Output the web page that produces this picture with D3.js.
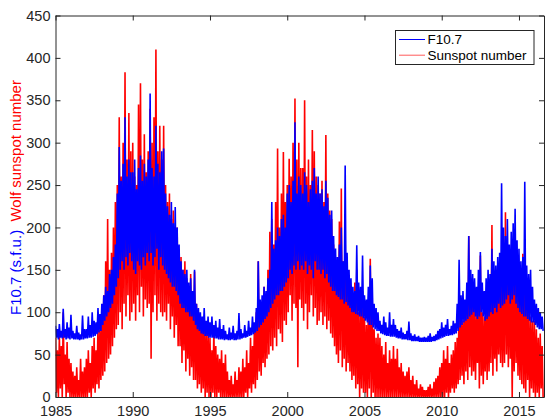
<!DOCTYPE html>
<html><head><meta charset="utf-8">
<script src="https://cdn.jsdelivr.net/npm/d3@7"></script>
<style>
html,body{margin:0;padding:0;background:#fff;}
svg{display:block;font-family:"Liberation Sans",Arial,Helvetica,sans-serif;}
</style></head>
<body>
<svg id="chart" width="545" height="418"></svg>
<script>
// ---- data: readings every 1/8 year from 1985.0 (high and low of each interval) ----
const startYear = 1985;
const stepYears = 0.125;
const xTicks = [1985, 1990, 1995, 2000, 2005, 2010, 2015];
const yTicks = [0, 50, 100, 150, 200, 250, 300, 350, 400, 450];
const seriesNames = ["F10.7", "Sunspot number"];

const f107Hi = [
 84,80,86,78,104,80,88,82,      // 1985
 97,78,75,84,76,74,96,80,       // 1986
 80,95,85,100,90,88,105,98,     // 1987
 110,120,130,125,145,150,165,180, // 1988
 240,295,255,275,330,260,280,265, // 1989
 265,280,245,270,285,255,275,260, // 1990
 280,358,270,260,320,275,265,290, // 1991
 293,240,225,215,230,205,224,200, // 1992
 180,160,150,145,150,135,140,125, // 1993
 150,110,105,100,95,105,90,95,   // 1994
 88,95,85,90,82,92,80,85,        // 1995
 78,74,82,76,84,75,78,99,        // 1996
 80,75,85,78,90,82,95,88,        // 1997
 105,160,115,120,130,125,140,150, // 1998
 230,175,185,200,190,210,215,200, // 1999
 240,250,230,255,324,240,260,250, // 2000
 240,265,250,230,245,255,270,240, // 2001
 260,240,245,225,255,235,215,220, // 2002
 190,175,165,180,200,160,273,170, // 2003
 150,140,130,125,179,135,130,167, // 2004
 120,115,130,155,140,110,105,100, // 2005
 90,85,95,88,82,100,85,92,       // 2006
 85,80,78,82,76,74,78,89,        // 2007
 75,72,74,71,72,70,70,71,        // 2008
 70,72,75,71,72,74,78,80,        // 2009
 88,82,85,92,80,84,90,87,        // 2010
 110,162,120,125,115,135,190,150, // 2011
 145,140,130,150,171,135,125,140, // 2012
 150,145,175,160,155,165,170,252, // 2013
 200,190,210,180,195,205,222,185, // 2014
 175,160,165,254,155,145,150,130, // 2015
 115,110,105,100,95              // 2016
];
const f107Lo = [
 70,68,70,69,70,68,69,68,
 69,68,68,68,67,68,68,69,
 69,70,70,71,72,74,76,78,
 85,90,95,100,105,110,120,130,
 140,150,160,150,165,155,170,160,
 150,145,160,155,150,165,155,170,
 160,170,155,165,175,150,165,155,
 150,145,140,135,130,130,125,120,
 110,105,105,100,100,95,95,90,
 85,80,78,75,74,72,72,70,
 70,70,69,69,68,68,68,67,
 68,67,67,68,67,67,68,68,
 69,70,70,71,72,73,74,76,
 78,82,85,88,92,95,100,105,
 110,115,120,120,125,125,130,135,
 140,150,145,155,150,160,150,155,
 150,160,145,155,150,140,160,150,
 150,145,150,140,145,135,130,125,
 125,120,118,115,115,110,112,108,
 105,100,100,98,97,95,95,93,
 90,88,85,85,82,80,78,78,
 75,74,73,72,72,71,71,71,
 70,69,69,68,68,68,67,67,
 66,66,66,66,65,65,65,65,
 65,65,65,66,66,67,68,69,
 70,71,72,72,73,73,74,75,
 78,82,85,88,90,92,95,97,
 100,95,92,95,100,95,90,92,
 95,100,98,105,100,110,105,108,
 110,115,120,110,115,120,110,105,
 100,98,95,95,92,90,88,88,
 85,82,80,80,78
];
const ssnHi = [
 70,55,72,60,100,50,65,45,
 40,30,25,35,20,45,30,35,
 45,55,40,60,70,55,85,80,
 95,120,160,210,150,170,200,230,
 250,330,260,300,383,280,335,290,
 300,260,250,345,370,280,310,265,
 290,340,300,330,410,290,320,280,
 320,250,230,240,210,220,190,200,
 175,165,150,160,140,130,145,120,
 148,110,100,95,85,90,75,80,
 70,55,80,60,50,45,55,40,
 50,30,20,25,15,30,20,35,
 30,45,35,55,40,70,60,85,
 100,160,90,110,130,120,150,195,
 210,180,230,293,200,240,289,230,
 250,281,260,300,352,280,300,270,
 270,350,260,280,250,315,290,260,
 250,240,255,230,309,240,220,210,
 180,165,150,207,246,160,190,150,
 130,120,110,135,150,100,110,125,
 95,85,110,163,120,80,70,75,
 70,60,50,65,40,55,45,60,
 45,57,35,40,30,25,30,35,
 20,25,15,20,10,15,12,8,
 8,12,15,10,18,22,25,35,
 40,55,45,60,40,50,55,65,
 70,120,100,90,110,120,190,140,
 130,110,100,120,167,100,95,110,
 120,110,203,130,120,140,130,150,
 140,218,150,160,130,145,155,120,
 120,110,169,130,110,100,95,90,
 90,80,70,75,60
];
const ssnLo = [
 5,0,10,0,15,0,5,0,
 0,0,0,0,0,0,0,0,
 0,5,0,10,5,15,10,20,
 25,30,40,45,50,60,70,80,
 85,100,80,110,95,120,90,100,
 110,90,120,100,130,95,115,105,
 110,45,100,120,90,110,100,95,
 100,90,110,80,95,70,85,60,
 60,40,55,30,45,25,35,20,
 20,10,15,5,10,0,5,0,
 0,5,0,0,5,0,0,0,
 0,0,0,0,0,0,0,0,
 0,0,5,0,10,5,15,10,
 20,30,25,40,35,45,50,60,
 55,70,60,80,75,65,90,85,
 100,120,90,110,105,35,115,105,
 90,110,80,100,120,95,105,85,
 90,100,85,95,80,90,75,70,
 60,50,40,55,35,45,30,40,
 30,20,25,10,15,0,10,5,
 5,0,10,0,5,0,0,0,
 0,0,0,0,0,0,0,0,
 0,0,0,0,0,0,0,0,
 0,0,0,0,0,0,0,0,
 0,0,0,0,0,0,0,0,
 0,0,5,0,5,10,5,10,
 15,20,25,15,30,20,35,25,
 30,20,40,10,25,15,30,20,
 30,40,25,45,30,50,40,35,
 40,50,35,45,0,30,40,25,
 20,15,10,5,20,0,10,5,
 0,5,0,10,0
];

// ---- layout ----
const svg = d3.select("#chart");
const pL = 55.5, pR = 544, pT = 15.5, pB = 397;
const x = d3.scaleLinear().domain([1985, 2016.62]).range([pL, pR]);
const y = d3.scaleLinear().domain([0, 450]).range([pB, pT]);
const axisColor = "#262626";

function build(hi, lo) {
  const pts = [];
  hi.forEach((h, i) => {
    const t = startYear + i * stepYears;
    pts.push([t, h]);
    pts.push([t + stepYears / 2, lo[i]]);
  });
  return pts;
}
const f107 = build(f107Hi, f107Lo);
const ssn = build(ssnHi, ssnLo);

svg.append("defs").append("clipPath").attr("id", "clip")
  .append("rect").attr("x", pL).attr("y", pT)
  .attr("width", pR - pL).attr("height", pB - pT);

const line = d3.line().x(d => x(d[0])).y(d => y(d[1]));
const plot = svg.append("g").attr("clip-path", "url(#clip)");
plot.append("path").datum(ssn).attr("d", line)
  .attr("fill", "none").attr("stroke", "#ff0000").attr("stroke-width", 1.6)
  .attr("stroke-linejoin", "miter").attr("stroke-miterlimit", 1);
plot.append("path").datum(f107).attr("d", line)
  .attr("fill", "none").attr("stroke", "#0000ff").attr("stroke-width", 1.6)
  .attr("stroke-linejoin", "miter").attr("stroke-miterlimit", 1);

// ---- axes ----
function styleAxis(g) {
  g.selectAll("path.domain").attr("stroke", axisColor).attr("stroke-width", 1);
  g.selectAll(".tick line").attr("stroke", axisColor).attr("stroke-width", 1);
  g.selectAll(".tick text").attr("fill", axisColor)
    .style("font-size", "14.5px").style("font-family", '"Liberation Sans",Arial,sans-serif');
}
svg.append("g").attr("transform", `translate(0,${pB})`)
  .call(d3.axisBottom(x).tickValues(xTicks).tickFormat(d3.format("d"))
    .tickSize(-5).tickSizeOuter(0).tickPadding(8.5))
  .call(styleAxis);
svg.append("g").attr("transform", `translate(0,${pT})`)
  .call(d3.axisTop(x).tickValues(xTicks).tickFormat("").tickSize(-5).tickSizeOuter(0))
  .call(styleAxis);
svg.append("g").attr("transform", `translate(${pL},0)`)
  .call(d3.axisLeft(y).tickValues(yTicks).tickFormat(d3.format("d"))
    .tickSize(-5).tickSizeOuter(0).tickPadding(5))
  .call(styleAxis);
svg.append("g").attr("transform", `translate(${pR},0)`)
  .call(d3.axisRight(y).tickValues(yTicks).tickFormat("").tickSize(-5).tickSizeOuter(0))
  .call(styleAxis);

// ---- y label ----
const yl = svg.append("text")
  .attr("transform", "translate(21,197.5) rotate(-90)")
  .attr("text-anchor", "middle")
  .style("font-size", "15px");
yl.append("tspan").attr("fill", "#0000ff").text("F10.7 (s.f.u.)");
yl.append("tspan").attr("fill", "#ff0000").text("\u00a0\u00a0Wolf sunspot number");

// ---- legend ----
const lg = svg.append("g");
lg.append("rect").attr("x", 395.5).attr("y", 30.5).attr("width", 138.5).attr("height", 34)
  .attr("fill", "#fff").attr("stroke", axisColor).attr("stroke-width", 1);
const legendColors = ["#0000ff", "#ff5a5a"];
seriesNames.forEach((name, i) => {
  const ly = 39.5 + i * 15.7;
  lg.append("line").attr("x1", 399).attr("x2", 425).attr("y1", ly).attr("y2", ly)
    .attr("stroke", legendColors[i]).attr("stroke-width", 1);
  lg.append("text").attr("x", 427.5).attr("y", ly + 4.5)
    .attr("fill", "#000").style("font-size", "13.5px").text(name);
});
</script>
</body></html>
